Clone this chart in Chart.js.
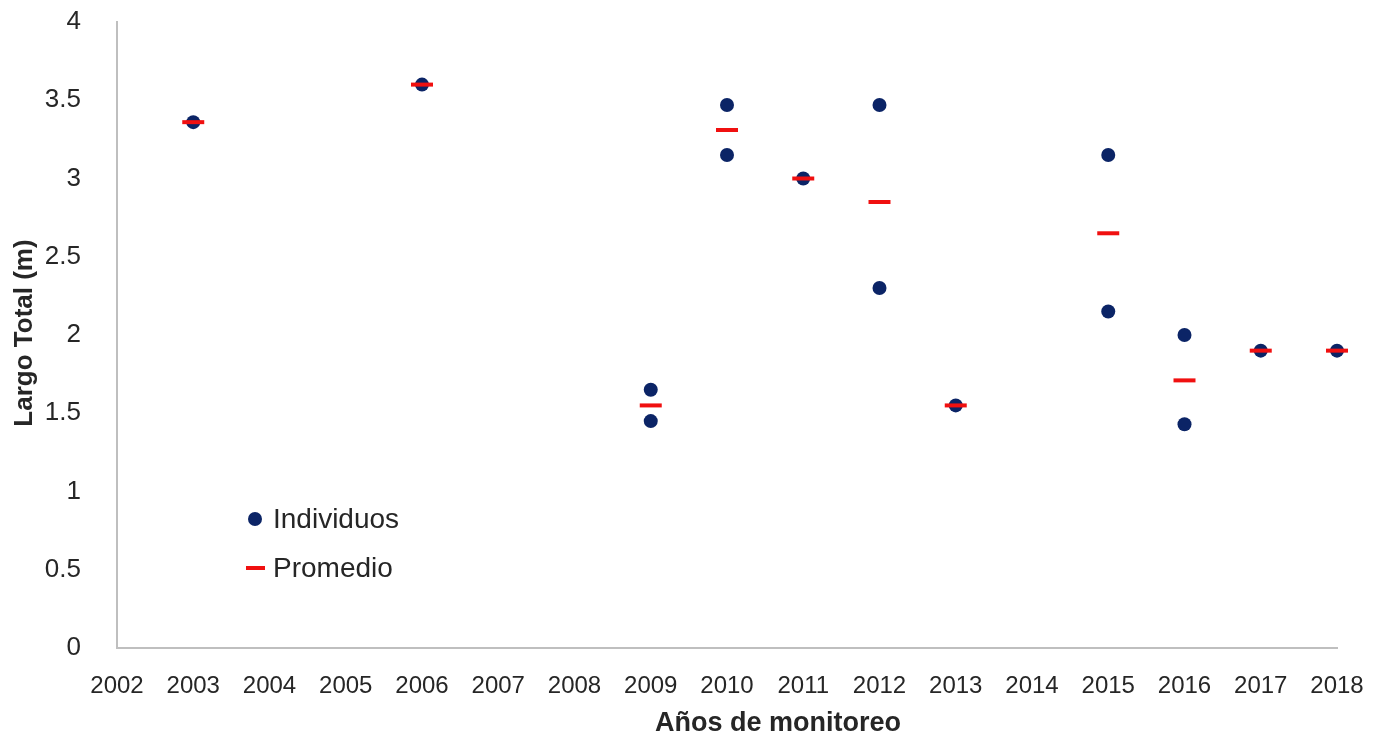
<!DOCTYPE html>
<html>
<head>
<meta charset="utf-8">
<script src="https://cdn.jsdelivr.net/npm/chart.js@4.4.1/dist/chart.umd.min.js"></script>
<style>
  html, body { margin: 0; padding: 0; background: #fff; }
  #wrap { width: 1379px; height: 740px; position: relative; }
</style>
</head>
<body>
<div id="wrap"><canvas id="grafico" width="1379" height="740"></canvas></div>
<script>
// valores
var anosIndividuos = [2003, 2006, 2009, 2009, 2010, 2010, 2011, 2012, 2012, 2013, 2015, 2015, 2016, 2016, 2017, 2018]
var largoIndividuos = [3.36, 3.6, 1.65, 1.45, 3.47, 3.15, 3.0, 3.47, 2.3, 1.55, 3.15, 2.15, 2.0, 1.43, 1.9, 1.9]
var anosPromedio = [2003, 2006, 2009, 2010, 2011, 2012, 2013, 2015, 2016, 2017, 2018]
var largoPromedio = [3.36, 3.6, 1.55, 3.31, 3.0, 2.85, 1.55, 2.65, 1.71, 1.9, 1.9]
var ejeX = { min: 2002, max: 2018, paso: 1 }
var ejeY = { min: 0, max: 4, paso: 0.5 }

var AZUL = '#0b2466'
var ROJO = '#f01010'
var GRIS = '#bfbfbf'
var TEXTO = '#262626'

function puntos(xs, ys) {
  return xs.map(function (x, i) { return { x: x, y: ys[i] } })
}

// titulos de ejes y leyenda dentro del area
var extras = {
  id: 'extras',
  afterDraw: function (chart) {
    var ctx = chart.ctx
    var a = chart.chartArea
    ctx.save()
    ctx.fillStyle = TEXTO
    ctx.textBaseline = 'middle'

    // titulo eje Y
    ctx.font = 'bold 26px "Liberation Sans", Arial, sans-serif'
    ctx.textAlign = 'center'
    ctx.translate(25, (a.top + a.bottom) / 2 - 2)
    ctx.rotate(-Math.PI / 2)
    ctx.fillText('Largo Total (m)', 0, 0)
    ctx.restore()

    ctx.save()
    ctx.fillStyle = TEXTO
    ctx.textBaseline = 'middle'
    ctx.textAlign = 'center'
    ctx.font = 'bold 27px "Liberation Sans", Arial, sans-serif'
    ctx.fillText('Años de monitoreo', 778, 724)

    // leyenda
    ctx.textAlign = 'left'
    ctx.font = '28px "Liberation Sans", Arial, sans-serif'
    ctx.fillStyle = AZUL
    ctx.beginPath()
    ctx.arc(255, 519, 7, 0, Math.PI * 2)
    ctx.fill()
    ctx.fillStyle = TEXTO
    ctx.fillText('Individuos', 273, 520)

    ctx.strokeStyle = ROJO
    ctx.lineWidth = 4
    ctx.beginPath()
    ctx.moveTo(246, 568)
    ctx.lineTo(265, 568)
    ctx.stroke()
    ctx.fillText('Promedio', 273, 569)
    ctx.restore()
  }
}

new Chart(document.getElementById('grafico'), {
  type: 'scatter',
  data: {
    datasets: [{
      label: 'Promedio',
      data: puntos(anosPromedio, largoPromedio),
      pointStyle: 'line',
      pointRadius: 11,
      pointBorderWidth: 4,
      borderColor: ROJO,
      backgroundColor: ROJO,
      clip: false,
      order: 0
    }, {
      label: 'Individuos',
      data: puntos(anosIndividuos, largoIndividuos),
      pointStyle: 'circle',
      pointRadius: 7,
      pointBorderWidth: 0,
      borderColor: AZUL,
      backgroundColor: AZUL,
      clip: false,
      order: 1
    }]
  },
  plugins: [extras],
  options: {
    responsive: false,
    animation: false,
    layout: { padding: { top: 22, right: 42, left: 0, bottom: 0 } },
    plugins: {
      legend: { display: false },
      tooltip: { enabled: false }
    },
    scales: {
      x: {
        type: 'linear',
        min: ejeX.min,
        max: ejeX.max,
        afterFit: function (s) { s.height = 92; s.paddingLeft = 0; s.paddingRight = 0 },
        grid: { display: false },
        border: { display: true, color: GRIS, width: 2 },
        ticks: {
          stepSize: ejeX.paso,
          padding: 16,
          color: TEXTO,
          font: { family: '"Liberation Sans", Arial, sans-serif', size: 24 },
          callback: function (v) { return String(v) }
        }
      },
      y: {
        min: ejeY.min,
        max: ejeY.max,
        afterFit: function (s) { s.width = 117; s.paddingTop = 0; s.paddingBottom = 0 },
        grid: { display: false },
        border: { display: true, color: GRIS, width: 2 },
        ticks: {
          stepSize: ejeY.paso,
          padding: 28,
          color: TEXTO,
          font: { family: '"Liberation Sans", Arial, sans-serif', size: 26 },
          callback: function (v) { return String(v) }
        }
      }
    }
  }
})
</script>
</body>
</html>
